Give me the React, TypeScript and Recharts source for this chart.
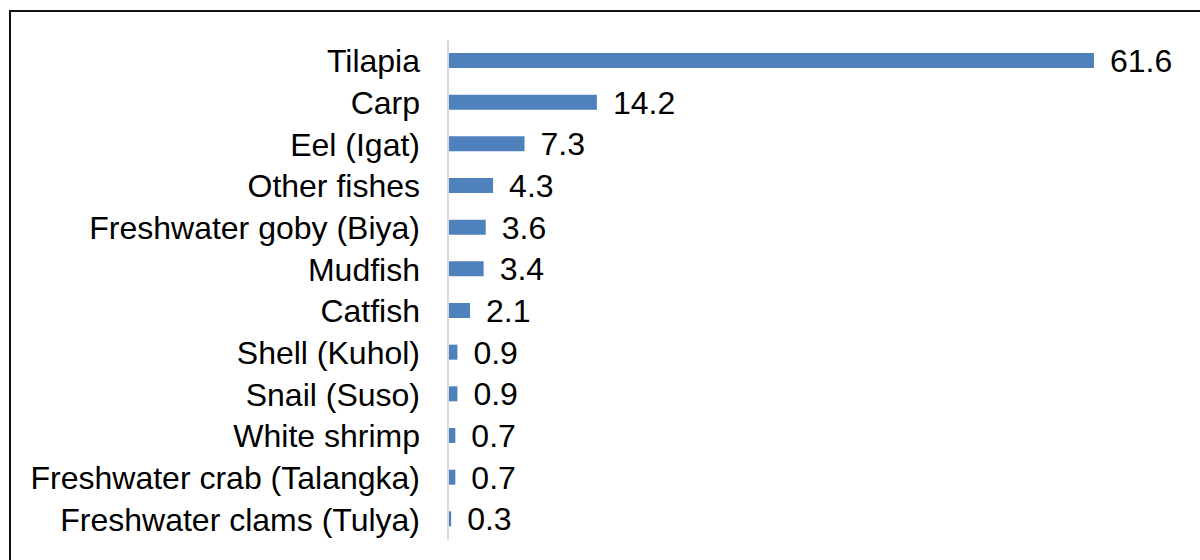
import { BarChart, Bar, XAxis, YAxis, LabelList } from 'recharts'

const species = [
  'Tilapia',
  'Carp',
  'Eel (Igat)',
  'Other fishes',
  'Freshwater goby (Biya)',
  'Mudfish',
  'Catfish',
  'Shell (Kuhol)',
  'Snail (Suso)',
  'White shrimp',
  'Freshwater crab (Talangka)',
  'Freshwater clams (Tulya)',
]

const shares = [61.6, 14.2, 7.3, 4.3, 3.6, 3.4, 2.1, 0.9, 0.9, 0.7, 0.7, 0.3]

const data = species.map((name, i) => ({ name, value: shares[i] }))

const font = '"Liberation Sans", Arial, sans-serif'

export default function App() {
  return (
    <div style={{ position: 'absolute', left: 0, top: 0, width: 1200, height: 560, overflow: 'hidden', background: '#fff' }}>
      <div
        style={{
          position: 'absolute',
          left: 9,
          top: 10,
          width: 1300,
          height: 700,
          borderLeft: '2px solid #111',
          borderTop: '2px solid #111',
        }}
      />
      <div style={{ position: 'absolute', left: 0, top: 0 }}>
        <BarChart
          width={1200}
          height={560}
          layout="vertical"
          data={data}
          margin={{ top: 40, right: 18, bottom: 20, left: 0 }}
          barSize={15}
        >
          <XAxis type="number" domain={[0, 70]} hide />
          <YAxis
            type="category"
            dataKey="name"
            width={448}
            axisLine={{ stroke: '#d9d9d9', strokeWidth: 2 }}
            tickLine={false}
            tickSize={0}
            tickMargin={28}
            interval={0}
            tick={{ fill: '#000', fontSize: 32, fontFamily: font }}
          />
          <Bar dataKey="value" fill="#4f81bd" isAnimationActive={false}>
            <LabelList
              dataKey="value"
              position="right"
              offset={16}
              fill="#000"
              fontSize={32}
              fontFamily={font}
              formatter={(v: number) => v.toFixed(1)}
            />
          </Bar>
        </BarChart>
      </div>
    </div>
  )
}
